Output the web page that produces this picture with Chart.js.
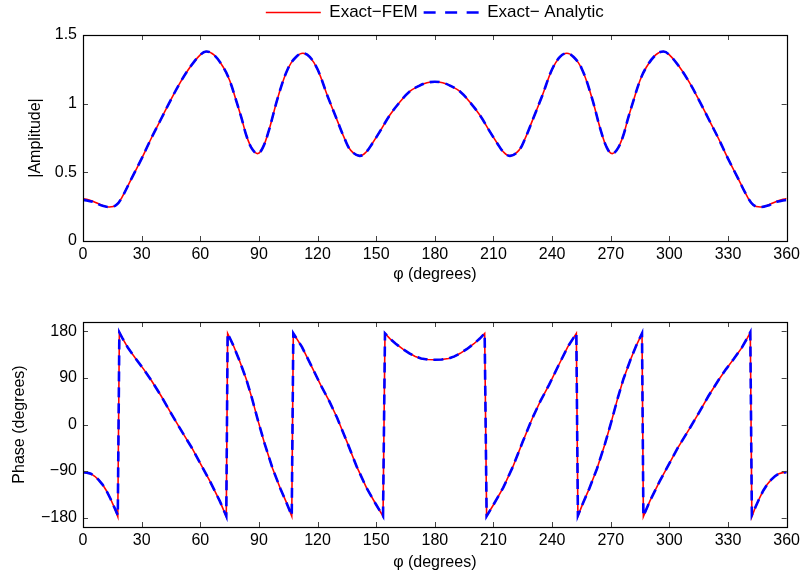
<!DOCTYPE html>
<html>
<head>
<meta charset="utf-8">
<script src="https://cdn.jsdelivr.net/npm/chart.js@4"></script>
<style>
    body { margin: 0; background: #fff; }
    #wrap { position: relative; width: 804px; height: 575px; }
    canvas { position: absolute; left: 0; }
</style>
</head>
<body>
<div id="wrap">
    <canvas id="amp-chart" width="804" height="287" style="top:0"></canvas>
    <canvas id="phase-chart" width="804" height="288" style="top:287px"></canvas>
</div>
<script>
// x positions (degrees) of the amplitude curve
const phiAmp = [0, 5, 10, 13.5, 17, 20, 25, 30, 35, 40, 45, 50, 55, 60, 63, 67, 72, 75, 78, 81, 84, 87, 89.5, 92, 95,
    100, 105, 109, 112.5, 116, 120, 125, 130, 134, 137, 141.5, 145, 148, 152, 157, 162, 167, 172, 176, 180,
    184, 188, 193, 198, 203, 208, 212, 215, 218.5, 223, 226, 230, 235, 240, 244, 247.5, 251, 255, 260, 265,
    268, 270.5, 273, 276, 279, 282, 285, 288, 293, 297, 300, 305, 310, 315, 320, 325, 330, 335, 340, 343,
    346.5, 350, 355, 360];

const ampFEM = [0.31, 0.29, 0.258, 0.248, 0.262, 0.32, 0.46, 0.60, 0.75, 0.89, 1.03, 1.16, 1.27, 1.355, 1.38, 1.355,
    1.26, 1.17, 1.04, 0.90, 0.75, 0.66, 0.637, 0.68, 0.80, 1.06, 1.26, 1.34, 1.367, 1.34, 1.25, 1.06, 0.88,
    0.74, 0.66, 0.62, 0.65, 0.71, 0.80, 0.917, 1.01, 1.087, 1.13, 1.152, 1.16,
    1.152, 1.13, 1.087, 1.01, 0.917, 0.80, 0.71, 0.65, 0.62, 0.66, 0.74, 0.88, 1.06, 1.25, 1.34, 1.367, 1.34,
    1.26, 1.06, 0.80, 0.68, 0.637, 0.66, 0.75, 0.90, 1.04, 1.17, 1.26, 1.355, 1.38, 1.355, 1.27, 1.16, 1.03,
    0.89, 0.75, 0.60, 0.46, 0.32, 0.262, 0.248, 0.258, 0.29, 0.31];

const ampAnalytic = [0.30, 0.285, 0.256, 0.248, 0.262, 0.32, 0.46, 0.60, 0.75, 0.89, 1.03, 1.16, 1.27, 1.355, 1.38, 1.355,
    1.26, 1.17, 1.04, 0.90, 0.75, 0.66, 0.637, 0.68, 0.80, 1.06, 1.26, 1.34, 1.367, 1.34, 1.25, 1.06, 0.88,
    0.74, 0.66, 0.62, 0.65, 0.71, 0.80, 0.917, 1.01, 1.087, 1.13, 1.152, 1.16,
    1.152, 1.13, 1.087, 1.01, 0.917, 0.80, 0.71, 0.65, 0.62, 0.66, 0.74, 0.88, 1.06, 1.25, 1.34, 1.367, 1.34,
    1.26, 1.06, 0.80, 0.68, 0.637, 0.66, 0.75, 0.90, 1.04, 1.17, 1.26, 1.355, 1.38, 1.355, 1.27, 1.16, 1.03,
    0.89, 0.75, 0.60, 0.46, 0.32, 0.262, 0.248, 0.256, 0.285, 0.30];

// x positions (degrees) of the phase curve, jumps have two close points
const phiPhase = [0, 2, 4, 6, 8, 10, 12, 14, 16, 17.8,
    18.6, 20, 23, 27, 31, 35, 40, 45, 50, 56, 60, 65, 70, 73.3,
    74, 77, 80, 83.5, 86.5, 89.5, 93, 97, 101, 104, 106.8,
    107.6, 112, 117, 121.5, 126, 130, 135, 140, 145, 150, 153.5,
    154.5, 157, 160, 163.5, 167, 170, 173, 176.5, 180, 183.5, 187, 190, 193, 196.5, 200, 203, 205.5,
    206.5, 210, 215, 220, 225, 230, 234, 238.5, 243, 248, 252.4,
    253.2, 256, 259, 263, 267, 270.5, 273.5, 276.5, 280, 283, 286,
    286.7, 290, 295, 300, 304, 310, 315, 320, 325, 329, 333, 337, 340, 341.4,
    342.2, 344, 346, 348, 350, 352, 354, 356, 358, 360];

const phaseFEM = [-92, -93, -95, -100, -107, -116, -128, -143, -160, -178,
    178, 168, 148, 127, 107, 85, 55, 22, -10, -47, -75, -110, -148, -178,
    176, 152, 124, 88, 50, 8, -38, -85, -124, -150, -177,
    176, 150, 112, 77, 45, 13, -33, -81, -122, -155, -177,
    176, 166, 156, 146, 137.5, 131.5, 127.5, 125.5, 125, 125.5, 127.5, 131.5, 137.5, 146, 156, 166, 176,
    -177, -155, -122, -81, -33, 13, 45, 77, 112, 150, 176,
    -177, -150, -124, -85, -38, 8, 50, 88, 124, 152, 176,
    -178, -148, -110, -75, -47, -10, 22, 55, 85, 107, 127, 148, 168, 178,
    -178, -160, -143, -128, -116, -107, -100, -95, -93, -92];

const phaseAnalytic = [-92, -93, -95, -100, -107, -116, -128, -143, -160, -175,
    178, 168, 148, 127, 107, 85, 55, 22, -10, -47, -75, -110, -148, -177,
    176, 152, 124, 88, 50, 8, -38, -85, -124, -150, -176,
    176, 150, 112, 77, 45, 13, -33, -81, -122, -155, -177,
    176, 166, 156, 146, 137.5, 131.5, 127.5, 125.5, 125, 125.5, 127.5, 131.5, 137.5, 146, 156, 166, 176,
    -177, -155, -122, -81, -33, 13, 45, 77, 112, 150, 176,
    -176, -150, -124, -85, -38, 8, 50, 88, 124, 152, 176,
    -177, -148, -110, -75, -47, -10, 22, 55, 85, 107, 127, 148, 168, 178,
    -175, -160, -143, -128, -116, -107, -100, -95, -93, -92];

const phiTicks = [0, 30, 60, 90, 120, 150, 180, 210, 240, 270, 300, 330, 360];
const ampTicks = [0, 0.5, 1, 1.5];
const phaseTicks = [-180, -90, 0, 90, 180];

const FONT = "'Liberation Sans', Arial, sans-serif";

function points(xs, ys) {
    let out = [];
    for (let i = 0; i < xs.length; i++) {
        out.push({ x: xs[i], y: ys[i] });
    }
    return out;
}

function fmt(v) {
    return String(v).replace("-", "\u2212");
}

// matlab style box with inward ticks on all four sides
const boxPlugin = {
    id: "box",
    afterDraw(chart) {
        const ctx = chart.ctx;
        const a = chart.chartArea;
        const xs = chart.scales.x;
        const ys = chart.scales.y;
        ctx.save();
        ctx.strokeStyle = "#444";
        ctx.lineWidth = 1;
        ctx.beginPath();
        for (let t of xs.ticks) {
            let px = Math.round(xs.getPixelForValue(t.value)) + 0.5;
            ctx.moveTo(px, a.bottom);
            ctx.lineTo(px, a.bottom - 5);
            ctx.moveTo(px, a.top);
            ctx.lineTo(px, a.top + 5);
        }
        for (let t of ys.ticks) {
            let py = Math.round(ys.getPixelForValue(t.value)) + 0.5;
            ctx.moveTo(a.left, py);
            ctx.lineTo(a.left + 5, py);
            ctx.moveTo(a.right, py);
            ctx.lineTo(a.right - 5, py);
        }
        ctx.stroke();
        ctx.strokeStyle = "#000";
        ctx.lineWidth = 1.2;
        ctx.strokeRect(Math.round(a.left) + 0.5, Math.round(a.top) + 0.5,
            Math.round(a.right - a.left), Math.round(a.bottom - a.top));
        ctx.restore();
    }
};

function makeDatasets(xs, fem, analytic, tension) {
    return [
        {
            label: "Exact\u2212FEM",
            data: points(xs, fem),
            borderColor: "#ff0000",
            backgroundColor: "#ff0000",
            borderWidth: 1.6,
            pointRadius: 0,
            tension: tension,
            order: 1,
        },
        {
            label: "Exact\u2212 Analytic",
            data: points(xs, analytic),
            borderColor: "#0000ff",
            backgroundColor: "#0000ff",
            borderWidth: 2.6,
            borderDash: [10, 6],
            pointRadius: 0,
            tension: tension,
            order: 0,
        },
    ];
}

function xScale(height) {
    return {
        type: "linear",
        min: 0,
        max: 360,
        afterBuildTicks: (s) => { s.ticks = phiTicks.map((v) => ({ value: v })); },
        afterFit: (s) => { s.height = height; },
        grid: { display: false, drawTicks: false },
        border: { display: false },
        ticks: { color: "#000", padding: 4, maxRotation: 0, font: { family: FONT, size: 16 } },
        title: {
            display: true,
            text: "\u03c6 (degrees)",
            color: "#000",
            padding: { top: 0, bottom: 3 },
            font: { family: FONT, size: 16 },
        },
    };
}

function yScale(min, max, ticks, title, titlePad) {
    return {
        type: "linear",
        min: min,
        max: max,
        afterBuildTicks: (s) => { s.ticks = ticks.map((v) => ({ value: v })); },
        afterFit: (s) => { s.width = 83; },
        grid: { display: false, drawTicks: false },
        border: { display: false },
        ticks: { color: "#000", padding: 6, font: { family: FONT, size: 16 }, callback: (v) => fmt(v) },
        title: {
            display: true,
            text: title,
            color: "#000",
            padding: { top: titlePad, bottom: 0 },
            font: { family: FONT, size: 16 },
        },
    };
}

new Chart(document.getElementById("amp-chart"), {
    type: "line",
    data: { datasets: makeDatasets(phiAmp, ampFEM, ampAnalytic, 0.4) },
    options: {
        responsive: false,
        animation: false,
        devicePixelRatio: 1,
        layout: { padding: { top: -2, right: 17, left: 0, bottom: 0 } },
        plugins: {
            tooltip: { enabled: false },
            legend: {
                display: true,
                position: "top",
                fullSize: false,
                labels: {
                    color: "#000",
                    font: { family: FONT, size: 17 },
                    usePointStyle: true,
                    pointStyle: "line",
                    pointStyleWidth: 55,
                    padding: 6,
                    sort: (a, b) => a.datasetIndex - b.datasetIndex,
                    generateLabels(chart) {
                        let items = Chart.defaults.plugins.legend.labels.generateLabels(chart);
                        for (let it of items) {
                            it.pointStyle = "line";
                            if (it.datasetIndex === 1) it.lineDash = [12, 9.5];
                        }
                        return items;
                    },
                },
            },
        },
        scales: {
            x: xScale(46),
            x2: {
                type: "linear",
                position: "top",
                min: 0,
                max: 360,
                afterFit: (s) => { s.height = 4; },
                grid: { display: false, drawTicks: false },
                border: { display: false },
                ticks: { display: false },
            },
            y: yScale(0, 1.5, ampTicks, "|Amplitude|", 26),
        },
    },
    plugins: [boxPlugin],
});

new Chart(document.getElementById("phase-chart"), {
    type: "line",
    data: { datasets: makeDatasets(phiPhase, phaseFEM, phaseAnalytic, 0) },
    options: {
        responsive: false,
        animation: false,
        devicePixelRatio: 1,
        layout: { padding: { top: 35, right: 17, left: 0, bottom: 0 } },
        plugins: {
            tooltip: { enabled: false },
            legend: { display: false },
        },
        scales: {
            x: xScale(48),
            y: yScale(-198, 198, phaseTicks, "Phase (degrees)", 10),
        },
    },
    plugins: [boxPlugin],
});
</script>
</body>
</html>
